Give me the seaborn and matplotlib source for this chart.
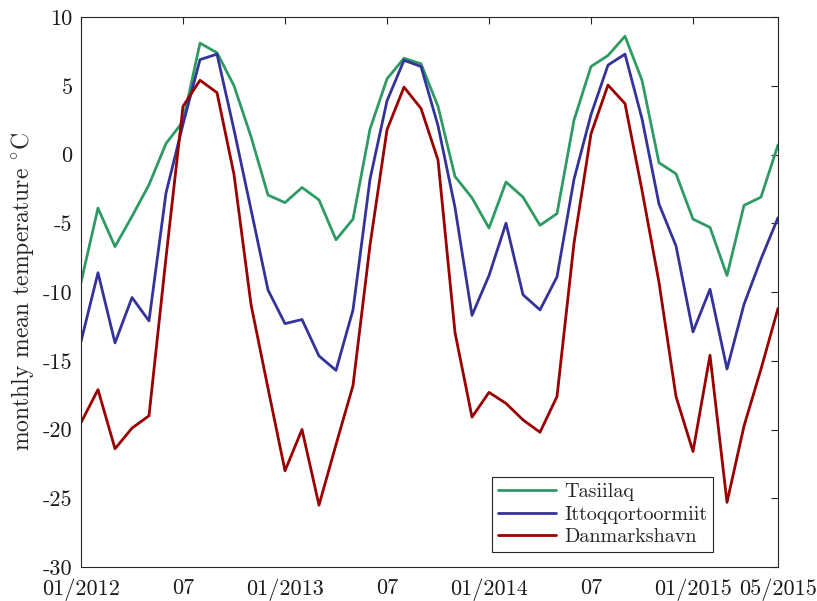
import numpy as np
import pandas as pd
import matplotlib
matplotlib.use("Agg")
import matplotlib.pyplot as plt
import seaborn as sns

# Monthly mean temperatures, January 2012 onwards (one value per month)
stations = ["Tasiilaq", "Ittoqqortoormiit", "Danmarkshavn"]

tasiilaq = [-9.3, -3.9, -6.7, -4.5, -2.2, 0.8, 2.4, 8.1, 7.4, 5.0,
            1.3, -2.95, -3.5, -2.4, -3.3, -6.2, -4.7, 1.85, 5.5, 7.0,
            6.6, 3.5, -1.6, -3.15, -5.35, -2.0, -3.1, -5.15, -4.3, 2.5,
            6.4, 7.2, 8.6, 5.4, -0.6, -1.4, -4.7, -5.3, -8.8, -3.7,
            -3.1, 0.7]

ittoqqortoormiit = [-13.6, -8.6, -13.7, -10.4, -12.1, -2.8, 2.2, 6.9, 7.3, 1.8,
                    -4.0, -9.85, -12.3, -12.0, -14.65, -15.7, -11.3, -1.8, 3.9, 6.85,
                    6.4, 2.1, -3.85, -11.7, -8.8, -5.0, -10.2, -11.3, -8.9, -1.8,
                    2.9, 6.5, 7.3, 2.6, -3.6, -6.65, -12.9, -9.8, -15.6, -10.9,
                    -7.6, -4.6]

danmarkshavn = [-19.5, -17.1, -21.4, -19.9, -19.0, -7.5, 3.5, 5.4, 4.5, -1.45,
                -10.9, -17.0, -23.0, -20.0, -25.5, -21.1, -16.8, -6.6, 1.8, 4.9,
                3.35, -0.4, -12.95, -19.1, -17.3, -18.1, -19.3, -20.2, -17.6, -6.45,
                1.5, 5.05, 3.7, -2.6, -9.3, -17.6, -21.6, -14.6, -25.3, -19.75,
                -15.6, -11.2]

tick_months = [0, 6, 12, 18, 24, 30, 36, 41]
tick_labels = ["01/2012", "07", "01/2013", "07", "01/2014", "07", "01/2015", "05/2015"]
y_ticks = [-30, -25, -20, -15, -10, -5, 0, 5, 10]

colors = {"Tasiilaq": "#2f9a64", "Ittoqqortoormiit": "#33339a", "Danmarkshavn": "#9a0000"}

months = np.arange(len(tasiilaq))
df = pd.concat([
    pd.DataFrame({"month": months, "temp": vals, "station": name})
    for name, vals in zip(stations, [tasiilaq, ittoqqortoormiit, danmarkshavn])
])

sns.set_theme(style="white")
plt.rcParams["font.family"] = ["cmr10", "DejaVu Serif"]
plt.rcParams["mathtext.fontset"] = "cm"
plt.rcParams["axes.unicode_minus"] = False

fig = plt.figure(figsize=(8.17, 6.01), dpi=100)
ax = fig.add_axes([81 / 817, 1 - 567 / 601, 697 / 817, 550 / 601])

sns.lineplot(data=df, x="month", y="temp", hue="station", hue_order=stations,
             palette=colors, linewidth=2.0, errorbar=None, ax=ax)

ax.set_xlim(0, len(tasiilaq) - 1)
ax.set_ylim(-30, 10)
ax.set_xticks(tick_months)
ax.set_xticklabels(tick_labels)
ax.set_yticks(y_ticks)
ax.set_yticklabels([str(v) for v in y_ticks])
ax.set_xlabel("")
ax.set_ylabel(r"monthly mean temperature $^{\circ}$C", fontsize=17, labelpad=5)

ax.tick_params(axis="both", which="major", direction="in", length=5, width=0.8,
               color="#262626", labelsize=16, labelcolor="#1a1a1a",
               top=True, right=True)
ax.tick_params(axis="x", pad=8)
ax.tick_params(axis="y", pad=6)
for side in ax.spines.values():
    side.set_visible(True)
    side.set_color("#262626")
    side.set_linewidth(0.8)

handles, labels = ax.get_legend_handles_labels()
leg = ax.legend(handles, labels, loc="lower right", bbox_to_anchor=(0.907, 0.027),
                borderaxespad=0, fontsize=14.5, handlelength=2.9, handletextpad=0.4,
                labelspacing=0.22, borderpad=0.3, frameon=True, fancybox=False,
                framealpha=1)
leg.get_frame().set_edgecolor("#262626")
leg.get_frame().set_linewidth(0.8)

fig.savefig("out.png", dpi=100)
